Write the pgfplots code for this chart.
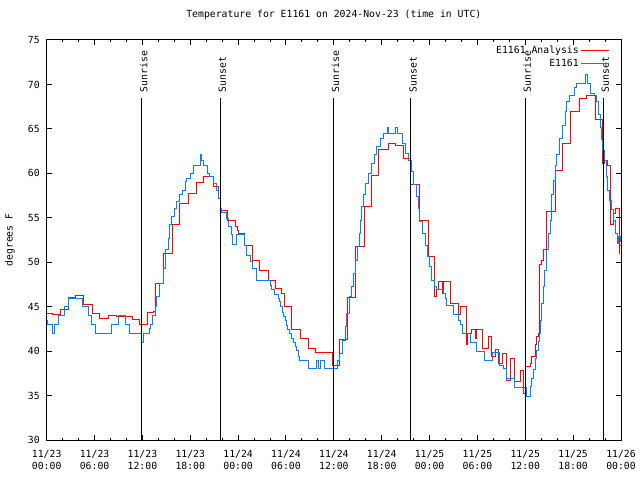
\documentclass[border=0pt]{standalone}
\usepackage{pgfplots}
\pgfplotsset{compat=1.18}
\usepackage{fontspec}
\setmainfont{DejaVu Sans Mono}
\definecolor{gred}{RGB}{255,0,0}
\definecolor{gblue}{RGB}{0,128,255}
\begin{document}
\fontsize{9.8}{11.5}\selectfont
\begin{tikzpicture}[x=1pt,y=1pt]
\useasboundingbox (-46.7,-40) rectangle (593.3,440);
\begin{axis}[
  at={(0,0)}, anchor=south west,
  scale only axis, width=574.3pt, height=400pt,
  xmin=0, xmax=72, ymin=30, ymax=75,
  xtick={0,6,...,72},
  xticklabels={{11/23\\00:00},{11/23\\06:00},{11/23\\12:00},{11/23\\18:00},{11/24\\00:00},{11/24\\06:00},{11/24\\12:00},{11/24\\18:00},{11/25\\00:00},{11/25\\06:00},{11/25\\12:00},{11/25\\18:00},{11/26\\00:00}},
  xticklabel style={align=center, yshift=-7pt},
  minor x tick num=2,
  ytick={30,35,...,75},
  yticklabel style={xshift=-3.5pt},
  tick align=inside,
  major tick length=5pt, minor tick length=2.5pt,
  every tick/.style={black, line width=1pt},
  axis line style={line width=1pt},
  /pgf/number format/assume math mode=true,
  title={Temperature for E1161 on 2024-Nov-23 (time in UTC)},
  title style={at={(axis description cs:0.5,1)}, anchor=base, yshift=16pt, inner sep=0pt},
  ylabel={degrees F},
  ylabel style={at={(axis description cs:-0.0639,0.5)}, anchor=center},
  legend style={at={(axis description cs:0.9808,0.99)}, anchor=north east, draw=none, fill=none, inner sep=0pt, row sep=0pt},
  legend cell align=right,
  legend plot pos=right,
  legend image code/.code={\draw[#1] (0pt,0pt) -- (28pt,0pt);},
]
\addplot[gred, line width=1pt, const plot] coordinates {
(0,44.2)(0.70,44.1)(1.67,44.7)(2.76,46.0)(3.64,46.3)(4.59,45.3)(5.72,44.25)(6.68,43.7)(7.72,44.0)(8.73,43.9)(10.73,43.6)(11.61,43.0)(12.61,44.4)(13.37,44.5)(13.70,47.6)(14.62,51.0)(15.80,54.2)(16.71,56.6)(17.75,57.7)(18.81,59.0)(19.72,59.6)(20.89,58.5)(21.51,57.2)(21.82,55.8)(22.69,54.75)(23.61,54.0)(23.90,53.6)(24.07,53.25)(24.86,51.9)(25.83,50.25)(26.74,49.1)(27.78,48.0)(28.71,47.0)(29.46,46.5)(29.79,45.0)(30.69,42.4)(31.82,41.4)(32.80,40.3)(33.70,39.8)(35.81,38.4)(36.65,41.3)(37.74,46.05)(38.74,51.8)(39.78,56.3)(40.75,59.75)(41.66,62.7)(42.83,63.3)(43.76,63.1)(44.71,61.7)(45.67,58.8)(46.71,54.7)(47.89,50.6)(48.56,49.5)(48.68,46.1)(48.81,46.9)(49.10,47.8)(49.65,46.5)(49.75,47.8)(50.65,45.4)(51.60,44.1)(51.94,45.0)(52.66,40.7)(52.78,42.0)(53.29,42.4)(53.70,41.4)(53.91,42.4)(54.66,40.3)(55.37,41.6)(55.79,39.4)(56.21,40.2)(56.62,38.6)(57.17,39.75)(57.67,36.75)(58.15,39.2)(58.71,36.6)(59.34,37.8)(59.76,35.25)(59.97,38.3)(60.60,38.6)(60.81,39.4)(61.22,40.7)(61.43,41.6)(61.63,42.0)(61.76,49.7)(62.06,50.25)(62.26,51.4)(62.69,55.7)(63.73,60.3)(64.64,63.3)(65.70,66.9)(66.77,68.4)(67.70,68.7)(68.83,66.1)(69.66,61.1)(69.99,61.5)(70.28,60.9)(70.71,54.2)(71.04,55.5)(71.25,56.1)(71.75,51.0)(71.78,51.9)(72,51.9)
};
\addlegendentry{E1161 Analysis}
\addplot[gblue, line width=1pt, const plot] coordinates {
(0,43.5)(0.08,43.05)(0.70,42.0)(0.95,43.05)(1.50,44.0)(2.21,45.05)(2.71,45.95)(4.46,45.05)(5.22,44.0)(5.64,43.0)(6.18,42.0)(8.15,43.0)(9.06,44.0)(9.82,43.0)(10.44,42.0)(11.91,41.0)(12.11,42.0)(12.86,42.5)(13.01,43.0)(13.24,44.0)(13.62,45.0)(13.79,46.1)(14.12,47.6)(14.62,49.3)(14.92,51.4)(15.25,52.7)(15.37,54.2)(15.67,55.1)(15.96,56.1)(16.30,56.8)(16.71,57.6)(17.00,58.1)(17.34,59.1)(17.55,59.4)(17.97,60.0)(18.38,60.9)(19.22,62.1)(19.43,61.5)(19.63,60.9)(20.14,60.0)(20.47,59.6)(20.89,58.9)(21.31,58.1)(21.51,57.2)(21.73,56.1)(21.94,55.6)(22.57,54.9)(22.77,54.0)(23.19,53.1)(23.32,52.05)(23.82,53.1)(24.74,51.9)(25.07,50.8)(25.49,50.1)(25.83,49.3)(26.33,48.0)(28.00,47.4)(28.21,46.95)(28.50,46.4)(29.04,45.9)(29.16,45.6)(29.34,45.0)(29.54,44.4)(29.66,43.95)(29.96,43.4)(30.09,42.9)(30.22,42.45)(30.50,42.0)(30.72,41.4)(30.92,40.95)(31.13,40.5)(31.34,40.05)(31.54,39.45)(31.67,39.0)(32.80,38.0)(33.85,39.0)(34.02,38.0)(34.27,39.0)(34.80,38.0)(36.48,39.0)(36.77,39.75)(37.11,41.25)(37.40,42.75)(37.61,44.25)(37.90,46.1)(38.24,47.25)(38.44,48.75)(38.74,50.25)(38.94,51.75)(39.19,53.25)(39.37,54.75)(39.49,56.25)(39.69,57.6)(40.03,58.9)(40.32,60.0)(40.75,61.1)(41.04,62.1)(41.37,63.0)(41.79,63.9)(42.20,64.5)(42.70,65.1)(42.83,64.5)(43.67,65.1)(44.04,64.5)(44.63,63.4)(44.92,62.25)(45.34,61.5)(45.76,60.2)(45.96,58.7)(46.39,57.4)(46.59,56.1)(46.80,54.6)(47.14,53.25)(47.43,51.9)(47.72,50.6)(48.05,49.5)(48.27,48.0)(48.56,47.25)(48.81,46.95)(49.72,46.5)(49.94,45.9)(50.15,45.1)(50.98,44.1)(51.60,43.5)(51.82,43.05)(52.11,42.0)(53.07,40.95)(53.91,40.0)(54.86,39.0)(55.91,39.9)(56.74,38.4)(57.21,38.0)(57.67,36.9)(58.63,35.9)(60.18,34.95)(60.60,36.0)(60.81,36.9)(61.01,37.95)(61.22,39.2)(61.43,40.1)(61.63,41.05)(61.76,42.0)(61.85,43.5)(62.06,45.4)(62.26,47.25)(62.47,49.1)(62.69,51.4)(62.89,53.25)(63.10,54.75)(63.31,57.6)(63.51,59.25)(63.73,60.9)(63.94,62.1)(64.35,63.9)(64.69,65.4)(64.98,66.9)(65.19,68.1)(65.60,68.8)(66.23,69.6)(66.44,70.1)(67.08,70.1)(67.49,71.1)(67.78,70.1)(68.21,69.0)(68.66,68.7)(68.96,68.1)(69.16,66.6)(69.37,65.1)(69.58,63.75)(69.71,62.6)(69.87,61.5)(70.12,59.6)(70.29,58.1)(70.54,57.0)(70.77,55.9)(71.01,54.75)(71.29,53.25)(71.50,52.1)(71.70,52.9)(71.92,52.3)(72,52.3)
};
\addlegendentry{E1161}
% sunrise / sunset markers
\addplot[black, line width=1pt, forget plot] coordinates {(11.9,30) (11.9,68.5)};
\addplot[black, line width=1pt, forget plot] coordinates {(21.77,30) (21.77,68.5)};
\addplot[black, line width=1pt, forget plot] coordinates {(35.94,30) (35.94,68.5)};
\addplot[black, line width=1pt, forget plot] coordinates {(45.67,30) (45.67,68.5)};
\addplot[black, line width=1pt, forget plot] coordinates {(60.0,30) (60.0,68.5)};
\addplot[black, line width=1pt, forget plot] coordinates {(69.78,30) (69.78,68.5)};
\node[rotate=90, anchor=west, inner sep=0pt] at (axis cs:12.15,69.1) {Sunrise};
\node[rotate=90, anchor=west, inner sep=0pt] at (axis cs:22.02,69.1) {Sunset};
\node[rotate=90, anchor=west, inner sep=0pt] at (axis cs:36.19,69.1) {Sunrise};
\node[rotate=90, anchor=west, inner sep=0pt] at (axis cs:45.92,69.1) {Sunset};
\node[rotate=90, anchor=west, inner sep=0pt] at (axis cs:60.25,69.1) {Sunrise};
\node[rotate=90, anchor=west, inner sep=0pt] at (axis cs:70.03,69.1) {Sunset};
\end{axis}
\end{tikzpicture}
\end{document}
